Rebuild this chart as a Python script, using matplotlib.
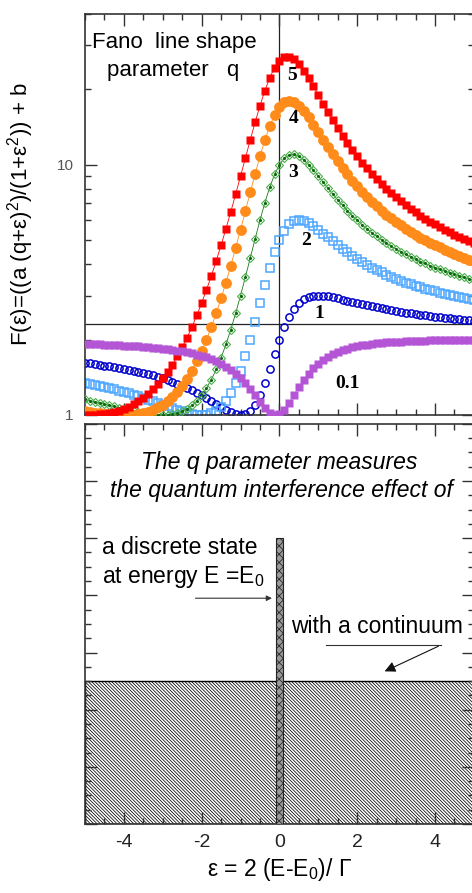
import numpy as np
import matplotlib
matplotlib.use("Agg")
import matplotlib.pyplot as plt
from matplotlib.ticker import MultipleLocator, LogLocator, NullFormatter

plt.rcParams["font.family"] = ["Liberation Sans", "DejaVu Sans"]
plt.rcParams["mathtext.fontset"] = "custom"
plt.rcParams["mathtext.rm"] = "Liberation Sans"
plt.rcParams["mathtext.it"] = "Liberation Sans:italic"
plt.rcParams["axes.unicode_minus"] = False
plt.rcParams["hatch.linewidth"] = 0.55

# reduced energy grid (one point every 1/8)
eps = np.linspace(-5, 5, 81)

# F(eps), left to right
F_q5 = [1.000, 1.000, 1.003, 1.006, 1.011, 1.020, 1.029, 1.042, 1.059, 1.079,
        1.103, 1.133, 1.169, 1.213, 1.265, 1.326, 1.400, 1.487, 1.591, 1.714,
        1.862, 2.038, 2.248, 2.498, 2.800, 3.163, 3.600, 4.128, 4.770, 5.545,
        6.488, 7.624, 9.000, 10.63, 12.56, 14.77, 17.20, 19.75, 22.24, 24.40,
        26.00, 26.86, 26.94, 26.33, 25.20, 23.75, 22.16, 20.55, 19.00, 17.56,
        16.24, 15.06, 14.00, 13.06, 12.22, 11.47, 10.80, 10.20, 9.67, 9.19,
        8.76, 8.37, 8.02, 7.69, 7.40, 7.13, 6.89, 6.66, 6.45, 6.26,
        6.08, 5.92, 5.77, 5.62, 5.49, 5.36, 5.25, 5.14, 5.04, 4.94,
        4.85]
F_q4 = [1.040, 1.031, 1.023, 1.019, 1.013, 1.008, 1.004, 1.001, 1.000, 1.000,
        1.004, 1.010, 1.020, 1.032, 1.049, 1.072, 1.100, 1.137, 1.183, 1.240,
        1.310, 1.398, 1.505, 1.638, 1.800, 2.001, 2.247, 2.550, 2.924, 3.383,
        3.951, 4.649, 5.500, 6.531, 7.760, 9.194, 10.80, 12.52, 14.24, 15.79,
        17.00, 17.75, 18.00, 17.78, 17.20, 16.38, 15.44, 14.46, 13.50, 12.59,
        11.76, 10.99, 10.31, 9.69, 9.14, 8.64, 8.20, 7.80, 7.44, 7.12,
        6.83, 6.56, 6.32, 6.10, 5.90, 5.72, 5.55, 5.39, 5.25, 5.11,
        4.99, 4.87, 4.76, 4.67, 4.57, 4.48, 4.40, 4.32, 4.25, 4.18,
        4.12]
F_q3 = [1.154, 1.142, 1.129, 1.119, 1.106, 1.095, 1.082, 1.070, 1.059, 1.047,
        1.037, 1.028, 1.019, 1.012, 1.005, 1.001, 1.000, 1.001, 1.007, 1.018,
        1.034, 1.059, 1.092, 1.138, 1.200, 1.281, 1.385, 1.520, 1.693, 1.913,
        2.195, 2.552, 3.000, 3.557, 4.240, 5.056, 6.000, 7.041, 8.118, 9.138,
        10.00, 10.62, 10.94, 10.99, 10.80, 10.45, 10.00, 9.51, 9.00, 8.51,
        8.05, 7.62, 7.23, 6.88, 6.55, 6.26, 6.00, 5.76, 5.55, 5.35,
        5.17, 5.01, 4.86, 4.73, 4.60, 4.49, 4.38, 4.28, 4.19, 4.10,
        4.03, 3.95, 3.88, 3.82, 3.76, 3.70, 3.65, 3.60, 3.55, 3.50,
        3.46]
F_q2 = [1.346, 1.334, 1.321, 1.308, 1.294, 1.280, 1.266, 1.251, 1.235, 1.219,
        1.203, 1.187, 1.170, 1.152, 1.135, 1.118, 1.100, 1.083, 1.065, 1.049,
        1.035, 1.021, 1.010, 1.003, 1.000, 1.004, 1.016, 1.039, 1.077, 1.135,
        1.220, 1.338, 1.500, 1.717, 2.000, 2.359, 2.800, 3.315, 3.883, 4.462,
        5.00, 5.45, 5.77, 5.95, 6.00, 5.96, 5.84, 5.68, 5.50, 5.31,
        5.12, 4.94, 4.77, 4.61, 4.46, 4.33, 4.20, 4.09, 3.98, 3.88,
        3.79, 3.71, 3.64, 3.57, 3.50, 3.44, 3.38, 3.33, 3.28, 3.24,
        3.20, 3.16, 3.12, 3.08, 3.05, 3.02, 2.99, 2.96, 2.93, 2.91,
        2.88]
F_q1 = [1.615, 1.606, 1.597, 1.587, 1.576, 1.566, 1.554, 1.542, 1.529, 1.516,
        1.502, 1.487, 1.472, 1.455, 1.438, 1.419, 1.400, 1.379, 1.358, 1.335,
        1.310, 1.285, 1.258, 1.229, 1.200, 1.170, 1.138, 1.107, 1.077, 1.049,
        1.024, 1.007, 1.000, 1.009, 1.040, 1.101, 1.200, 1.342, 1.529, 1.754,
        2.000, 2.246, 2.471, 2.658, 2.800, 2.899, 2.960, 2.991, 3.000, 2.993,
        2.976, 2.951, 2.923, 2.893, 2.862, 2.830, 2.800, 2.771, 2.742, 2.715,
        2.690, 2.665, 2.642, 2.621, 2.600, 2.581, 2.562, 2.545, 2.528, 2.513,
        2.498, 2.484, 2.471, 2.458, 2.446, 2.434, 2.424, 2.413, 2.403, 2.394,
        2.385]
F_q01 = [1.924, 1.921, 1.918, 1.914, 1.911, 1.907, 1.903, 1.899, 1.894, 1.890,
         1.884, 1.879, 1.873, 1.866, 1.858, 1.850, 1.841, 1.831, 1.820, 1.808,
         1.794, 1.779, 1.763, 1.743, 1.722, 1.698, 1.670, 1.639, 1.603, 1.562,
         1.516, 1.464, 1.405, 1.340, 1.270, 1.198, 1.128, 1.066, 1.021, 1.001,
         1.010, 1.050, 1.115, 1.198, 1.288, 1.378, 1.462, 1.538, 1.605, 1.662,
         1.711, 1.753, 1.788, 1.817, 1.842, 1.864, 1.882, 1.898, 1.911, 1.922,
         1.932, 1.941, 1.949, 1.955, 1.961, 1.966, 1.971, 1.975, 1.978, 1.981,
         1.984, 1.987, 1.989, 1.991, 1.993, 1.994, 1.996, 1.997, 1.998, 1.999,
         2.000]

# curve labels (text, x, y)
q_labels = ["5", "4", "3", "2", "1", "0.1"]
q_label_x = [0.21, 0.23, 0.23, 0.56, 0.90, 1.44]
q_label_y = [22.7, 15.3, 9.3, 5.0, 2.54, 1.33]

# schematic (bottom panel)
continuum_x = [-5, 5]
continuum_level = 2.5
state_pos = [0.0]
state_height = [5.0]
state_width = 0.2

SPINE = "#333333"

fig = plt.figure(figsize=(4.72, 8.93), dpi=100)
ax1 = fig.add_axes([0.180, 0.5353, 0.824, 0.449])
ax2 = fig.add_axes([0.180, 0.0773, 0.824, 0.448])

# ---- top panel: Fano line shapes
ax1.set_yscale("log")
ax1.plot(eps, F_q1, ls="none", marker="o", ms=5.2, mfc="none", mec="#0000cc", mew=1.1, zorder=2)
ax1.plot(eps, F_q2, ls="none", marker="s", ms=5.8, mfc="none", mec="#4da6ff", mew=1.1, zorder=2)
ax1.plot(eps, F_q3, ls="-", lw=0.6, color="#1a7a1a", marker="D", ms=4, mfc="none",
         mec="#4caf4c", mew=0.8, zorder=3)
ax1.plot(eps, F_q3, ls="none", marker=".", ms=2.5, color="#116611", zorder=3)
ax1.plot(eps, F_q4, ls="-", lw=0.6, color="#ff8c1a", marker="o", ms=7.8, mec="none", zorder=4)
ax1.plot(eps, F_q5, ls="-", lw=0.6, color="#ff0000", marker="s", ms=6.2, mec="none", zorder=5)
ax1.plot(eps, F_q01, ls="none", marker="s", ms=6.2, color="#b455d6", mec="none", zorder=6)

ax1.axvline(0, color="#222222", lw=0.9, zorder=1)
ax1.axhline(2.32, color="#222222", lw=0.9, zorder=1)

for lab, x, y in zip(q_labels, q_label_x, q_label_y):
    ax1.text(x, y, lab, family="Liberation Serif", fontweight="bold", fontsize=14,
             ha="left", va="center", zorder=7)

ax1.text(-4.82, 30.8, "Fano  line shape", fontsize=16, ha="left", va="center")
ax1.text(-4.44, 23.8, "parameter   q", fontsize=16, ha="left", va="center")

ax1.set_xlim(-5, 5)
ax1.set_ylim(1, 40)
ax1.set_yticks([1, 10])
ax1.set_yticklabels(["1", "10"])
ax1.yaxis.set_minor_locator(LogLocator(base=10, subs=np.arange(2, 10)))
ax1.yaxis.set_minor_formatter(NullFormatter())
ax1.xaxis.set_major_locator(MultipleLocator(2))
ax1.xaxis.set_minor_locator(MultipleLocator(0.5))
ax1.set_xticklabels([])
ax1.set_ylabel("F(ε)=((a (q+ε)$^2$)/(1+ε$^2$)) + b", fontsize=16)
ax1.yaxis.set_label_coords(-0.125, 0.5)
ax1.tick_params(axis="y", labelsize=11, labelcolor="#555555", pad=8)

# ---- bottom panel: schematic
ax2.fill_between(continuum_x, 0, continuum_level, facecolor="white", edgecolor="black",
                 hatch="\\" * 10, lw=1.0, zorder=1)
ax2.bar(state_pos, state_height, width=state_width, facecolor="#9a9a9a", edgecolor="#222222",
        hatch="xxxx", lw=0.8, zorder=3)

ax2.text(0.0, 6.33, "The q parameter measures", style="italic", fontsize=16.5,
         ha="center", va="center")
ax2.text(0.06, 5.83, "the quantum interference effect of", style="italic", fontsize=16.5,
         ha="center", va="center")
ax2.text(-4.56, 4.84, "a discrete state", fontsize=16.5, ha="left", va="center")
ax2.text(-4.56, 4.33, "at energy E =E$_0$", fontsize=16.5, ha="left", va="center")
ax2.annotate("", xy=(-0.12, 3.95), xytext=(-2.23, 3.95),
             arrowprops=dict(arrowstyle="-|>", lw=0.8, color="#333333", mutation_scale=8))
ax2.text(0.31, 3.46, "with a continuum", fontsize=16.5, ha="left", va="center")
ax2.plot([1.2, 4.15], [3.13, 3.13], color="#333333", lw=0.8)
ax2.annotate("", xy=(2.64, 2.65), xytext=(4.15, 3.13),
             arrowprops=dict(arrowstyle="-|>", lw=0.8, color="#111111", mutation_scale=16))

ax2.set_xlim(-5, 5)
ax2.set_ylim(0, 7)
ax2.xaxis.set_major_locator(MultipleLocator(2))
ax2.xaxis.set_minor_locator(MultipleLocator(0.5))
ax2.yaxis.set_major_locator(MultipleLocator(1))
ax2.yaxis.set_minor_locator(MultipleLocator(0.25))
ax2.set_yticklabels([])
ax2.tick_params(axis="x", labelsize=14, labelcolor="#222222", pad=7)
ax2.set_xlabel("ε = 2 (E-E$_0$)/ Γ", fontsize=16.5, labelpad=4)

for ax in (ax1, ax2):
    ax.tick_params(which="both", direction="in", top=True, right=True, color=SPINE, width=1.0)
    ax.tick_params(which="major", length=8.5)
    ax.tick_params(which="minor", length=4.5)
    for s in ax.spines.values():
        s.set_color(SPINE)
        s.set_linewidth(1.2)

fig.savefig("out.png", dpi=100)
